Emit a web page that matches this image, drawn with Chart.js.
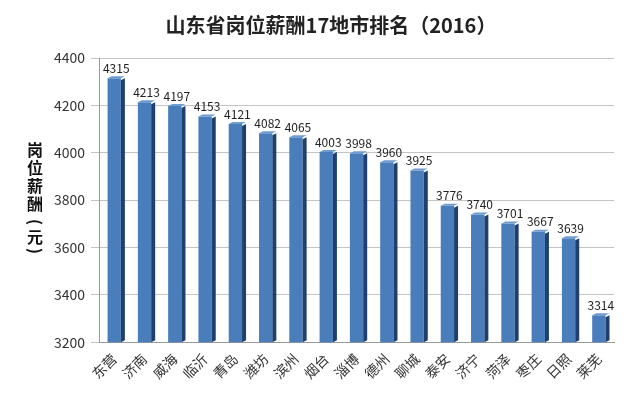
<!DOCTYPE html>
<html>
<head>
<meta charset="utf-8">
<script src="https://cdn.jsdelivr.net/npm/chart.js@4.4.0/dist/chart.umd.min.js"></script>
<style>
  html, body { margin: 0; padding: 0; background: #fff; }
  #wrap { width: 640px; height: 396px; }
</style>
</head>
<body>
<div id="wrap"><canvas id="myChart"></canvas></div>
<script>
const cities = ["东营", "济南", "威海", "临沂", "青岛", "潍坊", "滨州", "烟台", "淄博",
  "德州", "聊城", "泰安", "济宁", "菏泽", "枣庄", "日照", "莱芜"];
const salary = [4315, 4213, 4197, 4153, 4121, 4082, 4065, 4003, 3998,
  3960, 3925, 3776, 3740, 3701, 3667, 3639, 3314];
const yTicks = [3200, 3400, 3600, 3800, 4000, 4200, 4400];
const chartTitle = "山东省岗位薪酬17地市排名（2016）";
const yTitle = ["岗", "位", "薪", "酬", "(", "元", ")"];

const FONT = "'Noto Sans CJK SC', 'Noto Sans', sans-serif";

// side face + value labels + stacked y title
const extras = {
  id: "extras",
  afterDatasetsDraw(chart) {
    const ctx = chart.ctx;
    const meta = chart.getDatasetMeta(0);
    const base = chart.scales.y.getPixelForValue(3200);
    ctx.save();
    meta.data.forEach((bar, i) => {
      const w = bar.width;
      const right = bar.x + w / 2;
      ctx.fillStyle = "#1f3f6e";
      ctx.beginPath();
      ctx.moveTo(right, bar.y + 2);
      ctx.lineTo(right + 4, bar.y);
      ctx.lineTo(right + 4, base - 2);
      ctx.lineTo(right, base);
      ctx.closePath();
      ctx.fill();
      ctx.fillStyle = "#6f9bd3";
      ctx.beginPath();
      ctx.moveTo(bar.x - w / 2, bar.y);
      ctx.lineTo(bar.x - w / 2 + 4, bar.y - 2);
      ctx.lineTo(right + 4, bar.y - 2);
      ctx.lineTo(right, bar.y);
      ctx.closePath();
      ctx.fill();

      ctx.fillStyle = "#222";
      ctx.font = "12px " + FONT;
      ctx.textAlign = "center";
      ctx.textBaseline = "bottom";
      ctx.fillText(String(salary[i]), bar.x + 2, bar.y - 4);
    });

    ctx.fillStyle = "#111";
    ctx.font = "bold 16px " + FONT;
    ctx.textAlign = "center";
    ctx.textBaseline = "middle";
    const ys = [150, 168, 186, 204, 222, 237, 251];
    yTitle.forEach((c, i) => {
      if (c === "(" || c === ")") {
        ctx.save();
        ctx.translate(35, ys[i]);
        ctx.rotate(Math.PI / 2);
        ctx.fillText(c, 0, 0);
        ctx.restore();
      } else {
        ctx.fillText(c, 35, ys[i]);
      }
    });
    ctx.restore();
  }
};

new Chart(document.getElementById("myChart"), {
  type: "bar",
  data: {
    labels: cities,
    datasets: [{
      data: salary,
      backgroundColor: (c) => {
        const el = c.chart.getDatasetMeta(0).data[c.dataIndex];
        if (!el || !el.width) return "#4a7ebb";
        const g = c.chart.ctx.createLinearGradient(el.x - el.width / 2, 0, el.x + el.width / 2, 0);
        g.addColorStop(0, "#5b8fd0");
        g.addColorStop(0.6, "#4a7ebb");
        g.addColorStop(1, "#3a69a3");
        return g;
      },
      barPercentage: 0.44,
      categoryPercentage: 1
    }]
  },
  options: {
    responsive: true,
    maintainAspectRatio: false,
    animation: false,
    layout: { padding: { left: 48, right: 26, top: 8, bottom: 6 } },
    plugins: {
      legend: { display: false },
      tooltip: { enabled: false },
      title: {
        display: true,
        text: chartTitle,
        color: "#222",
        font: { family: FONT, size: 20, weight: "bold" },
        padding: { top: 5, bottom: 21 }
      }
    },
    scales: {
      x: {
        grid: { display: false, drawTicks: false },
        border: { color: "#999" },
        ticks: {
          color: "#333",
          font: { family: FONT, size: 14 },
          minRotation: 45,
          maxRotation: 45,
          padding: 8
        }
      },
      y: {
        min: 3200,
        max: 4400,
        afterBuildTicks: (axis) => { axis.ticks = yTicks.map(v => ({ value: v })); },
        grid: { color: "#c4c4c4", tickLength: 8 },
        border: { color: "#999" },
        ticks: {
          color: "#333",
          font: { family: FONT, size: 14 },
          padding: 6,
          callback: (v) => String(v)
        }
      }
    }
  },
  plugins: [extras]
});
</script>
</body>
</html>
